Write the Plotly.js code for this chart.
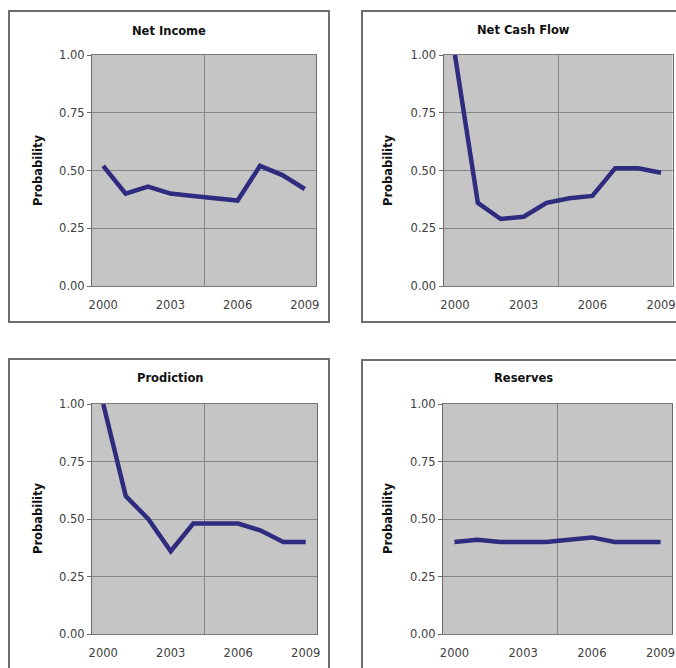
<!DOCTYPE html>
<html>
<head>
<meta charset="utf-8">
<script src="https://cdn.plot.ly/plotly-3.0.1.min.js"></script>
<style>html,body{margin:0;padding:0;background:#fff;}#chart{width:676px;height:668px;}</style>
</head>
<body>
<div id="chart"></div>
<script>
const years = [2000, 2001, 2002, 2003, 2004, 2005, 2006, 2007, 2008, 2009];
const xTickVals = [2000, 2003, 2006, 2009];
const yTickVals = [0, 0.25, 0.5, 0.75, 1.0];
const panelTitles = ["Net Income", "Net Cash Flow", "Prodiction", "Reserves"];
const netIncome   = [0.52, 0.40, 0.43, 0.40, 0.39, 0.38, 0.37, 0.52, 0.48, 0.42];
const netCashFlow = [1.00, 0.36, 0.29, 0.30, 0.36, 0.38, 0.39, 0.51, 0.51, 0.49];
const prodiction  = [1.00, 0.60, 0.50, 0.36, 0.48, 0.48, 0.48, 0.45, 0.40, 0.40];
const reserves    = [0.40, 0.41, 0.40, 0.40, 0.40, 0.41, 0.42, 0.40, 0.40, 0.40];
const seriesList = [netIncome, netCashFlow, prodiction, reserves];

const W = 676, H = 668;
const px = v => v / W;
const py = v => 1 - v / H;

// plot areas in pixels [left, right, top, bottom]
const plots = [[92, 316, 55, 286], [443.5, 672.5, 55, 286], [92, 317, 404, 634], [443, 672, 404, 634]];
// panel boxes [left, right, top, bottom]
const boxes = [[9, 329, 11, 322], [362, 700, 11, 322], [9, 329, 359, 700], [362, 700, 360, 700]];
const titlePos = [[169, 31], [523, 30], [170, 378], [523, 378]];
const yTitlePos = [[38, 170], [388, 170], [38, 518], [388, 518]];

const lineColor = '#2f2c80';
const gridColor = '#858585';
const font = 'DejaVu Sans, sans-serif';

const data = [];
const layout = {
  width: W, height: H,
  margin: {l: 0, r: 0, t: 0, b: 0},
  paper_bgcolor: '#ffffff',
  showlegend: false,
  shapes: [], annotations: []
};

seriesList.forEach((s, i) => {
  const n = i + 1;
  const xa = 'xaxis' + (n === 1 ? '' : n), ya = 'yaxis' + (n === 1 ? '' : n);
  data.push({
    x: years, y: s, type: 'scatter', mode: 'lines',
    xaxis: 'x' + (n === 1 ? '' : n), yaxis: 'y' + (n === 1 ? '' : n),
    line: {color: lineColor, width: 4.5}, hoverinfo: 'skip'
  });
  const p = plots[i];
  layout[xa] = {
    domain: [px(p[0]), px(p[1])], anchor: 'y' + (n === 1 ? '' : n),
    range: [1999.5, 2009.5], tickmode: 'array', tickvals: xTickVals,
    showgrid: false, zeroline: false,
    showline: true, mirror: true, linecolor: '#7a7a7a', linewidth: 1,
    ticks: '', ticklabelstandoff: 8,
    tickfont: {family: font, size: 11.5, color: '#404040'},
    minor: {tickmode: 'array', tickvals: [2004.5], showgrid: true, gridcolor: gridColor, gridwidth: 1, ticks: ''},
    fixedrange: true
  };
  layout[ya] = {
    domain: [py(p[3]), py(p[2])], anchor: 'x' + (n === 1 ? '' : n),
    range: [0, 1], tickmode: 'array', tickvals: yTickVals, tickformat: '.2f',
    showgrid: true, gridcolor: gridColor, gridwidth: 1, zeroline: false,
    showline: true, mirror: true, linecolor: '#6a6a6a', linewidth: 1,
    ticks: 'outside', ticklen: 4, tickcolor: '#6a6a6a',
    tickfont: {family: font, size: 11.5, color: '#404040'},
    fixedrange: true
  };
  layout.shapes.push({
    type: 'rect', xref: 'paper', yref: 'paper', layer: 'below',
    x0: px(p[0]), x1: px(p[1]), y0: py(p[3]), y1: py(p[2]),
    fillcolor: '#c5c5c5', line: {width: 0}
  });
  const b = boxes[i];
  layout.shapes.push({
    type: 'rect', xref: 'paper', yref: 'paper', layer: 'above',
    x0: px(b[0]), x1: px(b[1]), y0: py(b[3]), y1: py(b[2]),
    line: {color: '#6e6e6e', width: 2}
  });
  layout.annotations.push({
    xref: 'paper', yref: 'paper', x: px(titlePos[i][0]), y: py(titlePos[i][1]),
    text: '<b>' + panelTitles[i] + '</b>', showarrow: false,
    xanchor: 'center', yanchor: 'middle',
    font: {family: font, size: 11.5, color: '#111'}
  });
  layout.annotations.push({
    xref: 'paper', yref: 'paper', x: px(yTitlePos[i][0]), y: py(yTitlePos[i][1]),
    text: '<b>Probability</b>', showarrow: false, textangle: -90,
    xanchor: 'center', yanchor: 'middle',
    font: {family: font, size: 11.5, color: '#111'}
  });
});

Plotly.newPlot('chart', data, layout, {staticPlot: true, displayModeBar: false});
</script>
</body>
</html>
